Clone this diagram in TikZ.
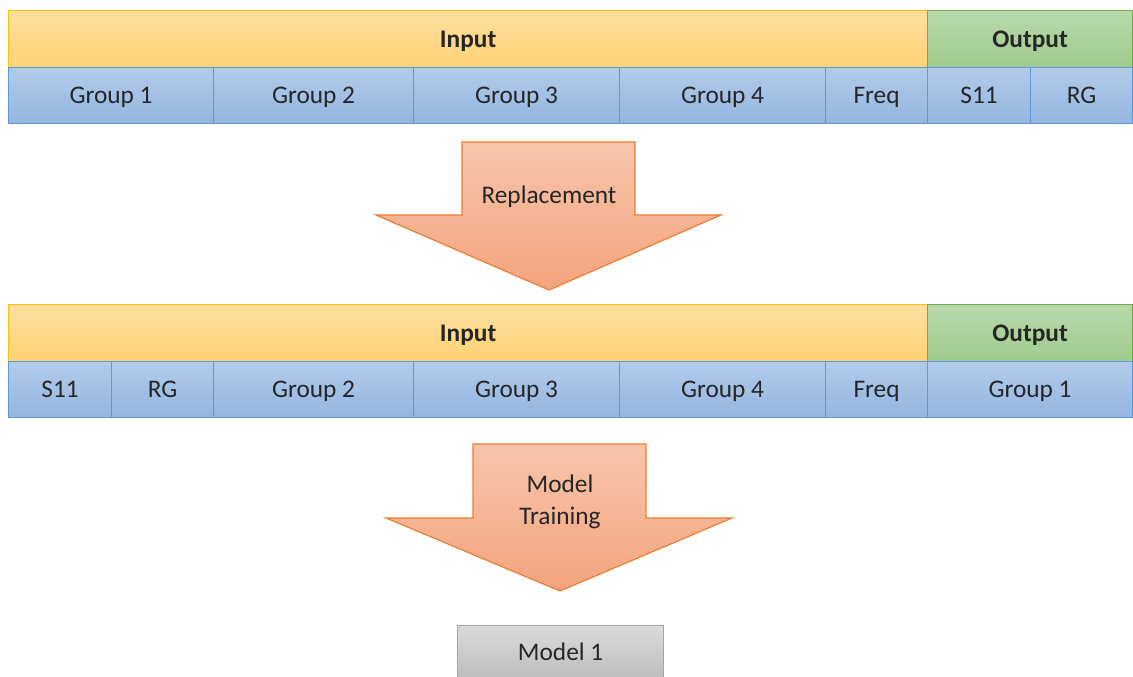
\documentclass[tikz,border=0pt]{standalone}
\usepackage{fontspec}
\setmainfont{Carlito}
\usetikzlibrary{positioning}
\definecolor{inTop}{HTML}{FFDFA0}
\definecolor{inBot}{HTML}{FFD275}
\definecolor{inLine}{HTML}{FFC000}
\definecolor{outTop}{HTML}{B8D9AB}
\definecolor{outBot}{HTML}{9FCB8C}
\definecolor{outLine}{HTML}{70AD47}
\definecolor{grTop}{HTML}{B2CBEA}
\definecolor{grBot}{HTML}{93B5E0}
\definecolor{grLine}{HTML}{5B9BD5}
\definecolor{arTop}{HTML}{F7C5AB}
\definecolor{arBot}{HTML}{F4A47F}
\definecolor{arLine}{HTML}{ED7D31}
\definecolor{mdTop}{HTML}{DADADA}
\definecolor{mdBot}{HTML}{BDBDBD}
\definecolor{mdLine}{HTML}{A5A5A5}
\tikzset{
  box/.style    = {rectangle, anchor=north west, inner sep=0, line width=0.9pt, text height=12pt, text depth=0pt, font=\fontsize{19}{22}\selectfont, text=black!85},
  wide/.style   = {minimum width=#1*0.75pt},
  tall/.style   = {minimum height=#1*0.75pt},
  inbar/.style  = {box, top color=inTop, bottom color=inBot, draw=inLine, font=\fontsize{19}{22}\selectfont\bfseries},
  outbar/.style = {box, top color=outTop, bottom color=outBot, draw=outLine, font=\fontsize{19}{22}\selectfont\bfseries},
  cell/.style   = {box, top color=grTop, bottom color=grBot, draw=grLine},
  model/.style  = {box, top color=mdTop, bottom color=mdBot, draw=mdLine},
  bigarrow/.style = {top color=arTop, bottom color=arBot, draw=arLine, line width=0.9pt, line join=miter},
  et/.style     = {font=\fontsize{19}{24}\selectfont, text=black!85, align=center}
}

\begin{document}
\begin{tikzpicture}[x=0.75pt, y=-0.75pt]
  \useasboundingbox (0,0) rectangle (1133,677);
  \clip (0,0) rectangle (1133,677);

  % first table
  \node[inbar, wide=919, tall=57] (in1) at (8,10) {Input};
  \node[outbar, wide=205, tall=57] (out1) at (927,10) {Output};
  \node[cell, wide=205, tall=56] (a1) at (8,67) {Group 1};
  \node[cell, wide=200, tall=56] (a2) at (213,67) {Group 2};
  \node[cell, wide=206, tall=56] (a3) at (413,67) {Group 3};
  \node[cell, wide=206, tall=56] (a4) at (619,67) {Group 4};
  \node[cell, wide=102, tall=56] (a5) at (825,67) {Freq};
  \node[cell, wide=103, tall=56] (a6) at (927,67) {S11};
  \node[cell, wide=102, tall=56] (a7) at (1030,67) {RG};

  % replacement arrow
  \path[bigarrow] (462,142) -- (635,142) -- (635,215) -- (721,215) -- (549,290)
    -- (376,215) -- (462,215) -- cycle;
  \node[et] (rep) at (549,197) {Replacement};

  % second table
  \node[inbar, wide=919, tall=57] (in2) at (8,304) {Input};
  \node[outbar, wide=205, tall=57] (out2) at (927,304) {Output};
  \node[cell, wide=103, tall=56] (b1) at (8,361) {S11};
  \node[cell, wide=102, tall=56] (b2) at (111,361) {RG};
  \node[cell, wide=200, tall=56] (b3) at (213,361) {Group 2};
  \node[cell, wide=206, tall=56] (b4) at (413,361) {Group 3};
  \node[cell, wide=206, tall=56] (b5) at (619,361) {Group 4};
  \node[cell, wide=102, tall=56] (b6) at (825,361) {Freq};
  \node[cell, wide=205, tall=56] (b7) at (927,361) {Group 1};

  % training arrow
  \path[bigarrow] (473,444) -- (646,444) -- (646,518) -- (732,518) -- (560,591)
    -- (386,518) -- (473,518) -- cycle;
  \node[et] (train) at (560,502) {Model\\Training};

  \node[model, wide=206, tall=54] (m1) at (457,625) {Model 1};
\end{tikzpicture}
\end{document}
